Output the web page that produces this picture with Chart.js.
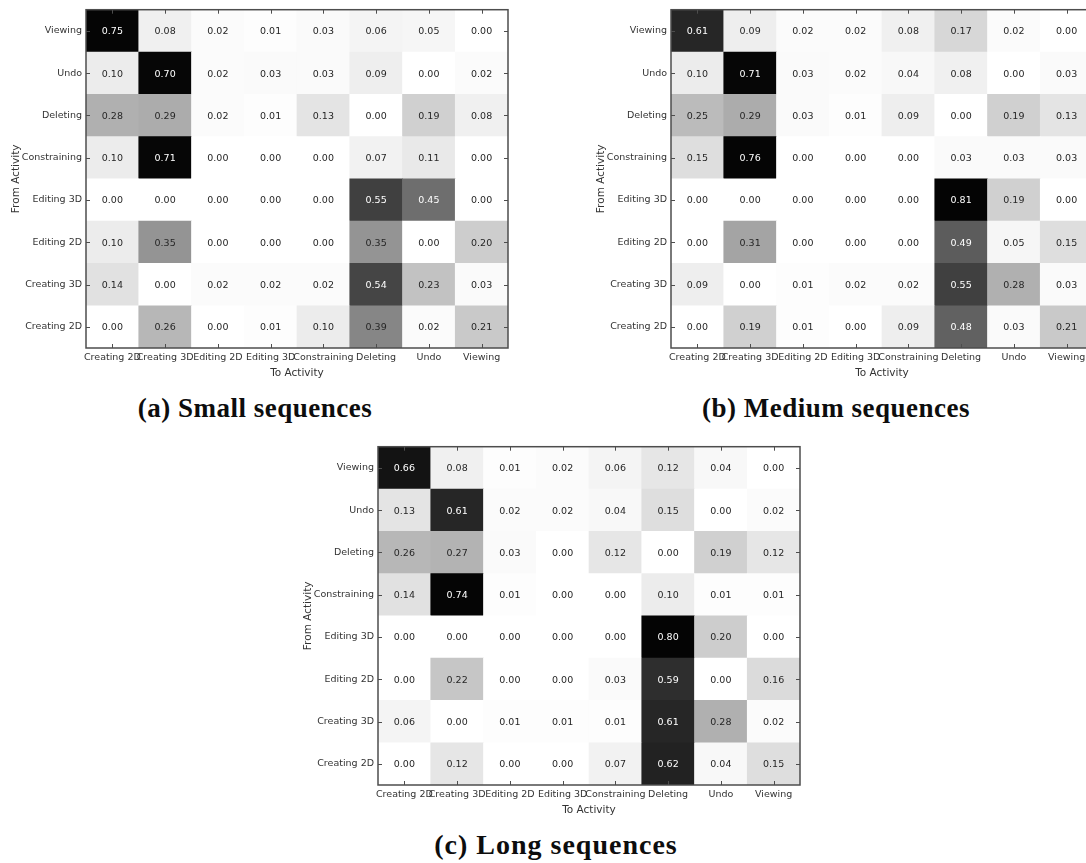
<!DOCTYPE html>
<html>
<head>
<meta charset="utf-8">
<script src="https://cdn.jsdelivr.net/npm/chart.js@4.4.1/dist/chart.umd.min.js"></script>
<style>
  body { margin: 0; width: 1086px; height: 863px; overflow: hidden; background: #fff; position: relative; }
  .panel { position: absolute; }
  .cap {
    position: absolute; width: 420px; text-align: center;
    font-family: "Liberation Serif", "Times New Roman", serif; font-weight: bold;
    font-size: 27px; letter-spacing: 0.5px; line-height: 30px; color: #0d0d0d;
  }
</style>
</head>
<body>
<div class="panel" style="left:0px; top:0px;"><canvas id="small" width="520" height="380"></canvas></div>
<div class="panel" style="left:585px; top:0px;"><canvas id="medium" width="520" height="380"></canvas></div>
<div class="panel" style="left:292px; top:437px;"><canvas id="long" width="520" height="380"></canvas></div>

<div class="cap" style="left:45px; top:393px;">(a) Small sequences</div>
<div class="cap" style="left:626px; top:393px;">(b) Medium sequences</div>
<div class="cap" style="left:346px; top:830px; font-size:28px; letter-spacing:1px;">(c) Long sequences</div>

<script>
// Column and row names (rows listed top to bottom, as in the figure)
var toActivity = ['Creating 2D', 'Creating 3D', 'Editing 2D', 'Editing 3D', 'Constraining', 'Deleting', 'Undo', 'Viewing'];
var fromActivity = ['Viewing', 'Undo', 'Deleting', 'Constraining', 'Editing 3D', 'Editing 2D', 'Creating 3D', 'Creating 2D'];

// Transition probabilities, one row per "from" activity
var smallSeq = [
  [0.75, 0.08, 0.02, 0.01, 0.03, 0.06, 0.05, 0.00],
  [0.10, 0.70, 0.02, 0.03, 0.03, 0.09, 0.00, 0.02],
  [0.28, 0.29, 0.02, 0.01, 0.13, 0.00, 0.19, 0.08],
  [0.10, 0.71, 0.00, 0.00, 0.00, 0.07, 0.11, 0.00],
  [0.00, 0.00, 0.00, 0.00, 0.00, 0.55, 0.45, 0.00],
  [0.10, 0.35, 0.00, 0.00, 0.00, 0.35, 0.00, 0.20],
  [0.14, 0.00, 0.02, 0.02, 0.02, 0.54, 0.23, 0.03],
  [0.00, 0.26, 0.00, 0.01, 0.10, 0.39, 0.02, 0.21]
];
var mediumSeq = [
  [0.61, 0.09, 0.02, 0.02, 0.08, 0.17, 0.02, 0.00],
  [0.10, 0.71, 0.03, 0.02, 0.04, 0.08, 0.00, 0.03],
  [0.25, 0.29, 0.03, 0.01, 0.09, 0.00, 0.19, 0.13],
  [0.15, 0.76, 0.00, 0.00, 0.00, 0.03, 0.03, 0.03],
  [0.00, 0.00, 0.00, 0.00, 0.00, 0.81, 0.19, 0.00],
  [0.00, 0.31, 0.00, 0.00, 0.00, 0.49, 0.05, 0.15],
  [0.09, 0.00, 0.01, 0.02, 0.02, 0.55, 0.28, 0.03],
  [0.00, 0.19, 0.01, 0.00, 0.09, 0.48, 0.03, 0.21]
];
var longSeq = [
  [0.66, 0.08, 0.01, 0.02, 0.06, 0.12, 0.04, 0.00],
  [0.13, 0.61, 0.02, 0.02, 0.04, 0.15, 0.00, 0.02],
  [0.26, 0.27, 0.03, 0.00, 0.12, 0.00, 0.19, 0.12],
  [0.14, 0.74, 0.01, 0.00, 0.00, 0.10, 0.01, 0.01],
  [0.00, 0.00, 0.00, 0.00, 0.00, 0.80, 0.20, 0.00],
  [0.00, 0.22, 0.00, 0.00, 0.03, 0.59, 0.00, 0.16],
  [0.06, 0.00, 0.01, 0.01, 0.01, 0.61, 0.28, 0.02],
  [0.00, 0.12, 0.00, 0.00, 0.07, 0.62, 0.04, 0.15]
];

// grey ramp: value -> grey level (white at 0, black near 0.7)
var rampStops = [[0, 255], [0.05, 246], [0.10, 236], [0.15, 222], [0.20, 205], [0.25, 187],
                 [0.30, 168], [0.35, 148], [0.40, 130], [0.45, 110], [0.50, 88], [0.55, 64],
                 [0.60, 42], [0.65, 22], [0.70, 6], [1.0, 0]];
function shade(v) {
  var g = 0;
  for (var i = 1; i < rampStops.length; i++) {
    if (v <= rampStops[i][0]) {
      var a = rampStops[i - 1], b = rampStops[i];
      g = a[1] + (b[1] - a[1]) * (v - a[0]) / (b[0] - a[0]);
      break;
    }
  }
  g = Math.round(g);
  return 'rgb(' + g + ',' + g + ',' + g + ')';
}

var frameColor = '#4d4d4d';
var labelFont = { family: 'DejaVu Sans', size: 9.5 };

// draws numbers in cells, the frame and the little inward ticks
var cellText = {
  id: 'cellText',
  afterDatasetsDraw: function (chart) {
    var ctx = chart.ctx;
    ctx.save();
    ctx.font = '9.5px "DejaVu Sans"';
    ctx.textAlign = 'center';
    ctx.textBaseline = 'middle';
    chart.data.datasets.forEach(function (ds, i) {
      chart.getDatasetMeta(i).data.forEach(function (bar, j) {
        var v = ds.values[j];
        ctx.fillStyle = v > 0.4 ? '#ffffff' : '#262626';
        ctx.fillText(v.toFixed(2), bar.x, (bar.y + bar.base) / 2 + 1);
      });
    });
    ctx.restore();
  },
  afterDraw: function (chart) {
    var ctx = chart.ctx, a = chart.chartArea;
    var xs = chart.scales.x, ys = chart.scales.y;
    ctx.save();
    ctx.strokeStyle = frameColor;
    ctx.lineWidth = 1.5;
    ctx.strokeRect(a.left, a.top, a.right - a.left, a.bottom - a.top);
    ctx.lineWidth = 1;
    ctx.beginPath();
    xs.ticks.forEach(function (t, i) {
      var x = Math.round(xs.getPixelForTick(i)) + 0.5;
      ctx.moveTo(x, a.top); ctx.lineTo(x, a.top + 4);
      ctx.moveTo(x, a.bottom); ctx.lineTo(x, a.bottom - 4);
    });
    ys.ticks.forEach(function (t) {
      var y = Math.round(ys.getPixelForValue(t.value)) + 0.5;
      ctx.moveTo(a.left, y); ctx.lineTo(a.left + 4, y);
      ctx.moveTo(a.right, y); ctx.lineTo(a.right - 4, y);
    });
    ctx.stroke();
    ctx.restore();
  }
};

function heatmap(id, matrix) {
  // stacked bars, bottom row first; every cell is one unit tall
  var rowsUp = fromActivity.slice().reverse();
  var valuesUp = matrix.slice().reverse();
  var datasets = rowsUp.map(function (name, r) {
    return {
      label: name,
      data: toActivity.map(function () { return 1; }),
      values: valuesUp[r],
      backgroundColor: valuesUp[r].map(shade),
      borderWidth: 0,
      barPercentage: 1,
      categoryPercentage: 1
    };
  });

  return new Chart(document.getElementById(id), {
    type: 'bar',
    data: { labels: toActivity, datasets: datasets },
    options: {
      responsive: false,
      animation: false,
      devicePixelRatio: 1,
      layout: { padding: { top: 7, right: 12, left: 0, bottom: 0 } },
      plugins: { legend: { display: false }, tooltip: { enabled: false } },
      scales: {
        x: {
          stacked: true,
          grid: { display: false, drawTicks: false },
          border: { display: false },
          ticks: { font: labelFont, color: '#333', padding: 4, maxRotation: 0, autoSkip: false },
          title: { display: true, text: 'To Activity', color: '#333',
                   font: { family: 'DejaVu Sans', size: 10.5 }, padding: { top: 1, bottom: 0 } },
          afterFit: function (s) { s.height = 32; }
        },
        y: {
          stacked: true,
          min: 0,
          max: 8,
          grid: { display: false, drawTicks: false },
          border: { display: false },
          afterBuildTicks: function (s) {
            s.ticks = rowsUp.map(function (n, i) { return { value: i + 0.5 }; });
          },
          ticks: {
            font: labelFont, color: '#333', padding: 4,
            callback: function (v) { return rowsUp[Math.round(v - 0.5)]; }
          },
          title: { display: true, text: 'From Activity', color: '#333',
                   font: { family: 'DejaVu Sans', size: 10.5 }, padding: { top: 10, bottom: 0 } },
          afterFit: function (s) { s.width = 86; }
        }
      }
    },
    plugins: [cellText]
  });
}

heatmap('small', smallSeq);
heatmap('medium', mediumSeq);
heatmap('long', longSeq);
</script>
</body>
</html>
